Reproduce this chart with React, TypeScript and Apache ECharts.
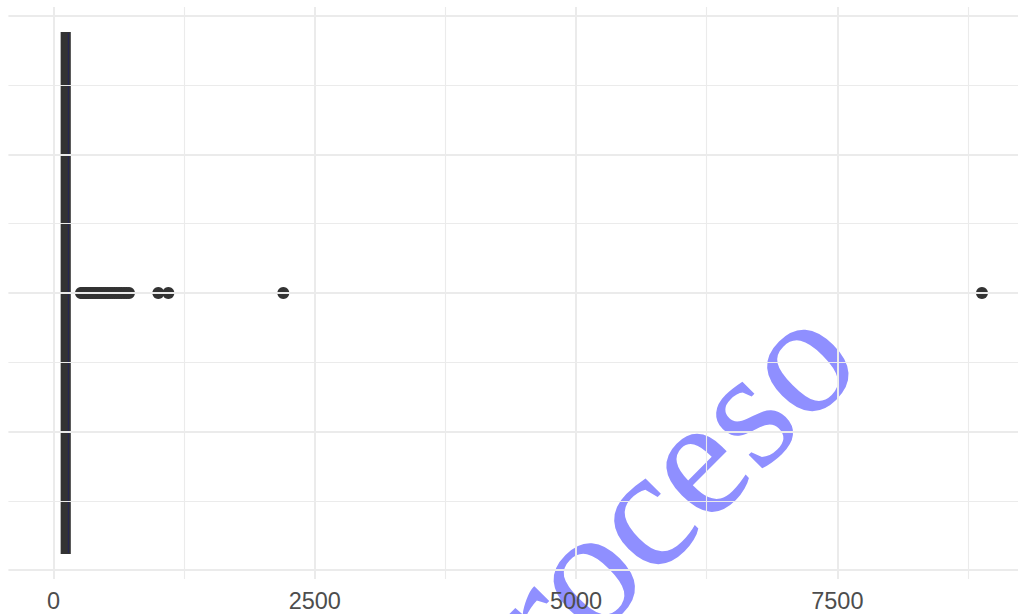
import React, { useEffect, useRef } from "react";
import * as echarts from "echarts";

// lower whisker, Q1, median, Q3, upper whisker
const BOX_STATS = [12, 78, 142, 156, 240];
const OUTLIERS = [
  263, 276, 290, 305, 318, 334, 350, 368, 385, 402, 420, 440, 458, 478, 497,
  518, 540, 560, 583, 605, 628, 650, 675, 698, 722, 1003, 1099, 2199, 8884,
];
const X_MAJOR = [0, 2500, 5000, 7500];
const X_MINOR = [1250, 3750, 6250, 8750];
const Y_MAJOR = [-0.4, -0.2, 0, 0.2, 0.4];
const Y_MINOR = [-0.3, -0.1, 0.1, 0.3];
const BOX_HALF = 0.375;
const WATERMARK = "Proceso";

export default function App() {
  const ref = useRef<HTMLDivElement>(null);
  useEffect(() => {
    const chart = echarts.init(ref.current!, null, { renderer: "svg" });
    const dataMin = Math.min(BOX_STATS[0], ...OUTLIERS);
    const dataMax = Math.max(BOX_STATS[4], ...OUTLIERS);
    const pad = (dataMax - dataMin) * 0.05;
    const xMin = dataMin - pad;
    const xMax = dataMax + pad;
    const yLim = BOX_HALF * 1.1;
    const pxPerUnit = 0.10451;
    const zeroPx = 53.5;
    const gridLeft = zeroPx + xMin * pxPerUnit;
    const gridWidth = (xMax - xMin) * pxPerUnit;
    const grid = "#ebebeb";

    const gridLines = [
      ...X_MAJOR.map((v) => ({ xAxis: v, lineStyle: { color: grid, width: 2, type: "solid" } })),
      ...X_MINOR.map((v) => ({ xAxis: v, lineStyle: { color: grid, width: 1.1, type: "solid" } })),
      ...Y_MAJOR.map((v) => ({ yAxis: v, lineStyle: { color: grid, width: 2, type: "solid" } })),
      ...Y_MINOR.map((v) => ({ yAxis: v, lineStyle: { color: grid, width: 1.1, type: "solid" } })),
    ];

    chart.setOption({
      animation: false,
      grid: {
        left: gridLeft,
        top: 7.1,
        width: gridWidth,
        height: 571.8,
        containLabel: false,
        outerBoundsMode: "none",
      },
      xAxis: {
        type: "value",
        min: xMin,
        max: xMax,
        axisLine: { show: false },
        axisTick: { show: false },
        splitLine: { show: false },
        axisLabel: {
          customValues: X_MAJOR,
          formatter: (v: number) => String(v),
          color: "#4d4d4d",
          fontSize: 23.5,
          fontFamily: "Liberation Sans",
          margin: 10,
        },
      },
      yAxis: {
        type: "value",
        min: -yLim,
        max: yLim,
        axisLine: { show: false },
        axisTick: { show: false },
        axisLabel: { show: false },
        splitLine: { show: false },
      },
      graphic: [
        {
          type: "text",
          z: 0,
          x: 635,
          y: 518,
          rotation: Math.PI / 4,
          style: {
            text: WATERMARK,
            fill: "#8f8fff",
            font: "170px 'Liberation Serif', 'Times New Roman', serif",
            align: "center",
            verticalAlign: "middle",
          },
        },
      ],
      series: [
        {
          type: "scatter",
          z: 1,
          silent: true,
          symbolSize: 0,
          data: [[0, 0]],
          markLine: {
            silent: true,
            symbol: "none",
            label: { show: false },
            data: gridLines,
          },
        },
        {
          type: "custom",
          z: 3,
          silent: true,
          data: [BOX_STATS],
          renderItem: (params: any, api: any) => {
            const lo = api.value(0);
            const q1 = api.value(1);
            const med = api.value(2);
            const q3 = api.value(3);
            const hi = api.value(4);
            const pLo = api.coord([lo, 0]);
            const pQ1Top = api.coord([q1, BOX_HALF]);
            const pQ3Bot = api.coord([q3, -BOX_HALF]);
            const pHi = api.coord([hi, 0]);
            const pMedTop = api.coord([med, BOX_HALF]);
            const pMedBot = api.coord([med, -BOX_HALF]);
            return {
              type: "group",
              children: [
                {
                  type: "line",
                  shape: { x1: pLo[0], y1: pLo[1], x2: pQ1Top[0], y2: pLo[1] },
                  style: { stroke: "#333333", lineWidth: 2 },
                },
                {
                  type: "line",
                  shape: { x1: pQ3Bot[0], y1: pHi[1], x2: pHi[0], y2: pHi[1] },
                  style: { stroke: "#333333", lineWidth: 2 },
                },
                {
                  type: "rect",
                  shape: {
                    x: pQ1Top[0],
                    y: pQ1Top[1],
                    width: pQ3Bot[0] - pQ1Top[0],
                    height: pQ3Bot[1] - pQ1Top[1],
                  },
                  style: { fill: "#333333", stroke: "#333333", lineWidth: 2 },
                },
                {
                  type: "line",
                  shape: { x1: pMedTop[0], y1: pMedTop[1], x2: pMedBot[0], y2: pMedBot[1] },
                  style: { stroke: "#23235a", lineWidth: 1 },
                },
              ],
            };
          },
        },
        {
          type: "scatter",
          z: 4,
          silent: true,
          symbol: "circle",
          symbolSize: 12,
          itemStyle: { color: "#333333", opacity: 1 },
          data: OUTLIERS.map((v) => [v, 0]),
        },
      ],
    });
    return () => chart.dispose();
  }, []);
  return (
    <div
      ref={ref}
      style={{ position: "fixed", left: 0, top: 0, width: 1018, height: 614, background: "#ffffff" }}
    />
  );
}
